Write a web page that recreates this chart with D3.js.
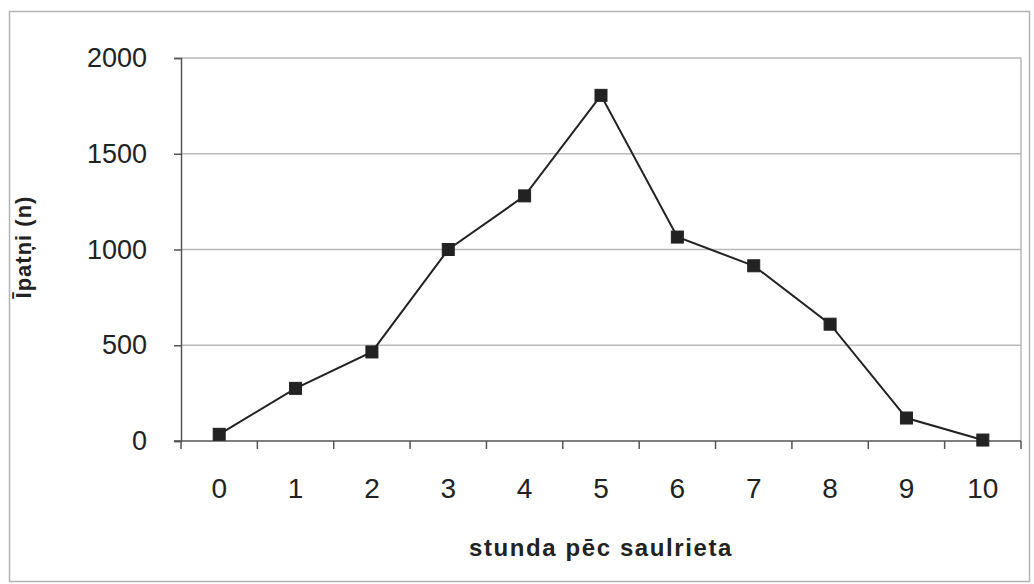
<!DOCTYPE html>
<html>
<head>
<meta charset="utf-8">
<script src="https://cdn.jsdelivr.net/npm/d3@7/dist/d3.min.js"></script>
<style>
  html, body { margin: 0; padding: 0; background: #fff; }
  svg text { font-family: "Liberation Sans", Arial, sans-serif; fill: #222; }
</style>
</head>
<body>
<svg id="chart" width="1034" height="584"></svg>
<script>
// Hours after sunset and counted individuals
const hours = ["0", "1", "2", "3", "4", "5", "6", "7", "8", "9", "10"];
const counts = [35, 275, 465, 1000, 1280, 1805, 1065, 915, 610, 120, 5];
const yTicks = [0, 500, 1000, 1500, 2000];
const xTitle = "stunda pēc saulrieta";
const yTitle = "Īpatņi (n)";

const svg = d3.select("#chart");
const plot = { left: 181, right: 1021, top: 58, bottom: 441 };

// outer frame
svg.append("rect")
  .attr("x", 9.5).attr("y", 11.5)
  .attr("width", 1020).attr("height", 570)
  .attr("fill", "none").attr("stroke", "#b4b4b4").attr("stroke-width", 1.5);

const x = d3.scaleBand().domain(hours).range([plot.left, plot.right]).paddingInner(0).paddingOuter(0);
const y = d3.scaleLinear().domain([0, 2000]).range([plot.bottom, plot.top]);

// gridlines
svg.append("g")
  .selectAll("line")
  .data(yTicks.filter(d => d > 0))
  .join("line")
  .attr("x1", plot.left).attr("x2", plot.right)
  .attr("y1", d => y(d)).attr("y2", d => y(d))
  .attr("stroke", "#b9b9b9").attr("stroke-width", 1.5);

// right border of plot area
svg.append("line")
  .attr("x1", plot.right).attr("x2", plot.right)
  .attr("y1", plot.top).attr("y2", plot.bottom)
  .attr("stroke", "#b9b9b9").attr("stroke-width", 1.5);

// y axis
const yAxis = svg.append("g")
  .attr("transform", `translate(${plot.left},0)`)
  .call(d3.axisLeft(y).tickValues(yTicks).tickFormat(d3.format("d")).tickSize(7).tickPadding(27));
yAxis.select(".domain").attr("stroke", "#555").attr("stroke-width", 1.5);
yAxis.selectAll(".tick line").attr("stroke", "#555").attr("stroke-width", 1.5);
yAxis.selectAll(".tick text")
  .style("font-size", "27px").attr("fill", "#222");

// x axis with ticks between categories
const xAxis = svg.append("g")
  .attr("transform", `translate(0,${plot.bottom})`)
  .call(d3.axisBottom(x).tickSize(0).tickPadding(37));
xAxis.select(".domain").attr("stroke", "#555").attr("stroke-width", 1.5)
  .attr("d", `M${plot.left - 7},0H${plot.right}`);
xAxis.selectAll(".tick text").style("font-size", "28px").attr("fill", "#222");

const bounds = hours.map(h => x(h)).concat([plot.right]);
svg.append("g")
  .selectAll("line")
  .data(bounds)
  .join("line")
  .attr("x1", d => d).attr("x2", d => d)
  .attr("y1", plot.bottom).attr("y2", plot.bottom + 8)
  .attr("stroke", "#555").attr("stroke-width", 1.5);

// series line
const cx = h => x(h) + x.bandwidth() / 2;
svg.append("path")
  .datum(hours.map((h, i) => [cx(h), y(counts[i])]))
  .attr("d", d3.line())
  .attr("fill", "none").attr("stroke", "#222").attr("stroke-width", 2);

// square markers
const m = 12;
svg.append("g")
  .selectAll("rect")
  .data(hours.map((h, i) => ({ h, v: counts[i] })))
  .join("rect")
  .attr("x", d => cx(d.h) - m / 2).attr("y", d => y(d.v) - m / 2)
  .attr("width", m).attr("height", m)
  .attr("fill", "#222").attr("stroke", "#222").attr("stroke-width", 1);

// axis titles
svg.append("text")
  .attr("x", (plot.left + plot.right) / 2).attr("y", 556)
  .attr("text-anchor", "middle")
  .style("font-size", "24px").style("font-weight", "bold")
  .style("letter-spacing", "1.6px")
  .text(xTitle);

svg.append("text")
  .attr("transform", `translate(31,247) rotate(-90)`)
  .attr("text-anchor", "middle")
  .style("font-size", "22px").style("font-weight", "bold")
  .style("letter-spacing", "1px")
  .text(yTitle);
</script>
</body>
</html>
